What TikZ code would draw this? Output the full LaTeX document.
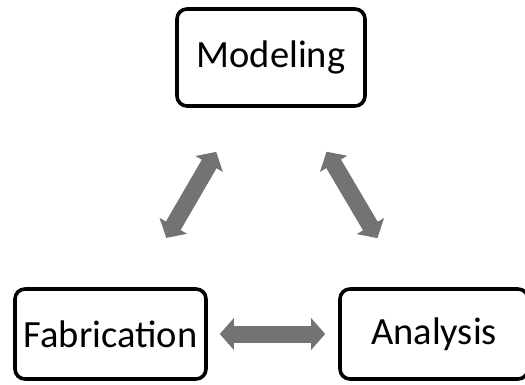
\documentclass[tikz,border=0pt]{standalone}
\usepackage{fontspec}
\setmainfont{Carlito}
\usetikzlibrary{arrows.meta}

\begin{document}
\begin{tikzpicture}[
        x=1pt, y=-1pt,
        stageNode/.style={
            rectangle, rounded corners=10pt, draw=black, line width=3.6pt,
            fill=white, minimum height=90pt, inner sep=0pt,
            font=\fontsize{38.5}{41}\selectfont
        },
        biArrow/.style={
            line width=17pt, draw=black!55,
            {Triangle[width=31pt,length=14pt]}-{Triangle[width=31pt,length=14pt]}
        }
    ]
        \useasboundingbox (0,0) rectangle (525,385);

        % Stage nodes
        \node (mod) [stageNode, minimum width=188pt, minimum height=97pt] at (271,57.5) {Modeling};
        \node (fab) [stageNode, minimum width=191pt] at (110.5,334) {Fabrication};
        \node (ana) [stageNode, minimum width=188pt] at (434,334) {Analysis};

        % Links between the stages
        \draw [biArrow, shorten <=57pt, shorten >=51pt] (fab) -- (mod);
        \draw [biArrow, shorten <=51pt, shorten >=57pt] (mod) -- (ana);
        \draw [biArrow, shorten <=12pt, shorten >=13pt] (fab.east) -- (ana.west);
    \end{tikzpicture}
\end{document}
